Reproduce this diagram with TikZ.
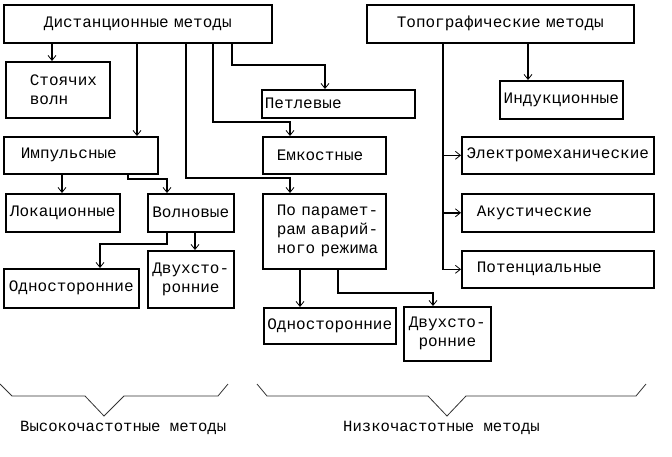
\documentclass[tikz,border=0pt]{standalone}
\usepackage{fontspec}
\newfontfamily\mono{Liberation Mono}
\usetikzlibrary{arrows.meta}
\tikzset{
  blok/.style={draw, line width=1.6pt, anchor=north west, inner ysep=0pt,
               inner xsep=0pt, align=center,
               font=\mono\fontsize{16}{19}\selectfont},
  arr/.style={line width=1.6pt,
              -{Straight Barb[length=5pt,width=8pt,line width=0.8pt]}},
  skobka/.style={line width=0.8pt, black!80},
  podpis/.style={anchor=west, inner sep=0pt,
                 font=\mono\fontsize{15.6}{19}\selectfont}
}
\begin{document}
\begin{tikzpicture}[x=1pt,y=-1pt]
  \useasboundingbox (0,0) rectangle (672,456);
  % дистанционные
  \node[blok, minimum height=38pt, text width=268pt] (dist)    at (3,4)     {Дистанционные методы};
  \node[blok, minimum height=56pt, text width=56pt, inner xsep=24pt, align=left]
                                                     (stoyach) at (5,61)    {Стоячих\\волн};
  \node[blok, minimum height=37pt, text width=120pt, inner xsep=17pt, align=left]
                                                     (impuls)  at (3,136)   {Импульсные};
  \node[blok, minimum height=38pt, text width=114pt] (lokac)   at (5,193)   {Локационные};
  \node[blok, minimum height=38pt, text width=86pt]  (volnov)  at (147,193) {Волновые};
  \node[blok, minimum height=39pt, text width=135pt] (odnoL)   at (3,268)   {Односторонние};
  \node[blok, minimum height=57pt, text width=86pt]  (dvuhL)   at (147,250) {Двухсто-\\ронние};
  \node[blok, minimum height=28pt, text width=147pt, inner xsep=3pt, align=left]
                                                     (petl)    at (261,89)  {Петлевые};
  \node[blok, minimum height=37pt, text width=95pt, inner xsep=14pt, align=left]
                                                     (emk)     at (262,136) {Емкостные};
  \node[blok, minimum height=75pt, text width=95pt, inner xsep=14pt, align=left]
                                                     (popar)   at (262,193)
    {\mbox{По парамет-}\\\mbox{рам аварий-}\\\mbox{ного режима}};
  \node[blok, minimum height=36pt, text width=132pt] (odnoR)   at (263,307) {Односторонние};
  \node[blok, minimum height=54pt, text width=87pt]  (dvuhR)   at (403,306) {Двухсто-\\ронние};
  % топографические
  \node[blok, minimum height=38pt, text width=267pt] (topo)    at (366,4)   {Топографические методы};
  \node[blok, minimum height=38pt, text width=123pt] (indukc)  at (499,80)  {Индукционные};
  \node[blok, minimum height=37pt, text width=192pt] (elmeh)   at (461,136) {Электромеханические};
  \node[blok, minimum height=38pt, text width=162pt, inner xsep=15pt, align=left]
                                                     (akust)   at (461,193) {Акустические};
  \node[blok, minimum height=37pt, text width=162pt, inner xsep=15pt, align=left]
                                                     (potenc)  at (461,250) {Потенциальные};

  \draw[arr] (dist.south -| 52,0)  -- (stoyach.north -| 52,0);
  \draw[arr] (dist.south -| 137,0) -- (impuls.north -| 137,0);
  \draw[arr] (dist.south -| 186,0) -- (186,178) -| (popar.north -| 290,0);
  \draw[arr] (dist.south -| 213,0) -- (213,122) -| (emk.north -| 290,0);
  \draw[arr] (dist.south -| 232,0) -- (232,65)  -| (petl.north -| 325,0);
  \draw[arr] (impuls.south -| 62,0)  -- (lokac.north -| 62,0);
  \draw[arr] (impuls.south -| 128,0) -- (128,179) -| (volnov.north -| 167,0);
  \draw[arr] (volnov.south -| 167,0) -- (167,244) -| (odnoL.north -| 100,0);
  \draw[arr] (volnov.south -| 195,0) -- (dvuhL.north -| 195,0);
  \draw[arr] (popar.south -| 300,0)  -- (odnoR.north -| 300,0);
  \draw[arr] (popar.south -| 338,0)  -- (338,293) -| (dvuhR.north -| 433,0);

  \draw[arr] (topo.south -| 528,0) -- (indukc.north -| 528,0);
  \draw[arr] (topo.south -| 443,0) |- (potenc.west);
  \draw[arr] (elmeh.west -| 443,0) -- (elmeh.west);
  \draw[arr] (akust.west -| 443,0) -- (akust.west);

  % скобки
  \draw[skobka] (0,384) -- (12,396) -- (85,396) -- (104,416) -- (124,396) -- (218,396) -- (228,384);
  \draw[skobka] (257,384) -- (267,396) -- (428,396) -- (447,416) -- (466,396) -- (636,396) -- (646,384);
  \node[podpis] (vch) at (20,428)  {Высокочастотные методы};
  \node[podpis] (nch) at (343,428) {Низкочастотные методы};
\end{tikzpicture}
\end{document}
